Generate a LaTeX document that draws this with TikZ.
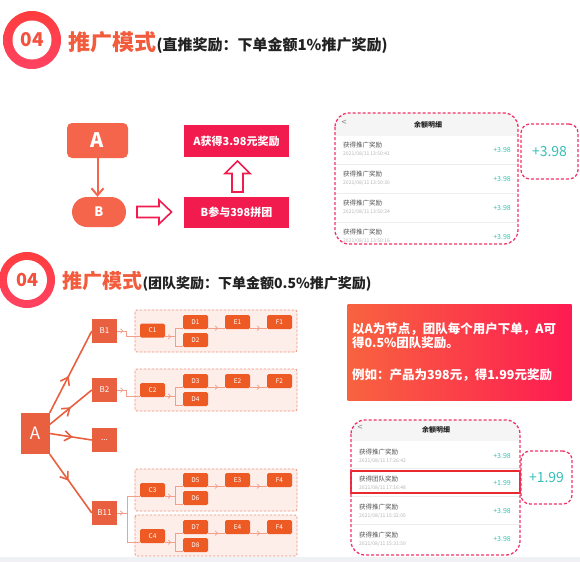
\documentclass[tikz,border=0pt]{standalone}
\usepackage{fontspec}
\setmainfont{Noto Sans CJK SC}
\usetikzlibrary{shapes,arrows.meta,positioning,calc,decorations.markings}

\definecolor{ringA}{HTML}{FF3D3D}
\definecolor{ringB}{HTML}{FF4262}
\definecolor{numc}{HTML}{F4513F}
\definecolor{titlec}{HTML}{F25B3B}
\definecolor{txtdark}{HTML}{222222}
\definecolor{coralA}{HTML}{F5654B}
\definecolor{crimson}{HTML}{F21B4E}
\definecolor{pinkd}{HTML}{F2336B}
\definecolor{tealc}{HTML}{38BFB8}
\definecolor{hdrgray}{HTML}{F5F5F5}
\definecolor{sepgray}{HTML}{EDEDED}
\definecolor{treeA}{HTML}{E8603F}
\definecolor{orng}{HTML}{EE5A24}
\definecolor{grpfill}{HTML}{FDEEEA}
\definecolor{grpline}{HTML}{F1937C}
\definecolor{linkc}{HTML}{F2A08C}
\definecolor{gradL}{HTML}{F8633F}
\definecolor{gradR}{HTML}{FE1B52}
\definecolor{hlred}{HTML}{E82A2F}
\definecolor{bandgray}{HTML}{EFF1F4}
\definecolor{rowtxt}{HTML}{555555}
\definecolor{datetxt}{HTML}{B4B4B4}

\begin{document}
\begin{tikzpicture}[x=1pt,y=-1pt,
  topnode/.style={fill=coralA,text=white,inner sep=0pt,font=\bfseries\fontsize{20}{20}\selectfont},
  redbox/.style={fill=crimson,text=white,inner sep=0pt,minimum width=105pt,minimum height=31pt,font=\bfseries\fontsize{11}{12}\selectfont},
  hollow/.style={draw=crimson,fill=white,line width=1.6pt,line join=miter},
  bbox/.style={fill=treeA,text=white,minimum width=25pt,minimum height=24pt,inner sep=0pt,font=\fontsize{8}{8}\selectfont},
  cbox/.style={fill=orng,text=white,rounded corners=1.5pt,minimum width=25pt,minimum height=14pt,inner sep=0pt,font=\fontsize{6.5}{7}\selectfont},
  grp/.style={draw=grpline,fill=grpfill,dash pattern=on 2.5pt off 1.5pt,line width=0.8pt,rounded corners=2pt},
  lnk/.style={color=linkc,line width=0.7pt},
  tline/.style={color=treeA,line width=1.6pt},
  midarr/.style={postaction={decorate},decoration={markings,mark=at position #1 with {\arrow{Straight Barb[length=2.5pt,width=4.5pt]}}}},
  bigarr/.style={postaction={decorate},decoration={markings,mark=at position #1 with {\arrow{Straight Barb[length=7pt,width=10pt,line width=1.6pt]}}}},
  phone/.style={draw=pinkd,dash pattern=on 3pt off 2pt,line width=1.3pt,rounded corners=14pt},
  sidebox/.style={draw=pinkd,dash pattern=on 3pt off 2pt,line width=1.3pt,rounded corners=9pt,text=tealc,inner sep=0pt,font=\fontsize{14}{14}\selectfont},
  rowttl/.style={inner sep=0pt,text=rowtxt,font=\fontsize{6.5}{7}\selectfont},
  rowdate/.style={inner sep=0pt,text=datetxt,font=\fontsize{5}{5}\selectfont},
  rowval/.style={inner sep=0pt,text=tealc,font=\fontsize{7}{7}\selectfont}]
\fill[white] (0,0) rectangle (580,562);
\useasboundingbox (0,0) rectangle (580,562);

% Header 1
\node[circle,minimum size=58pt,inner sep=0pt,top color=ringA,bottom color=ringB] (ring1) at (32,40) {};
\node[circle,fill=white,minimum size=39pt,inner sep=0pt,text=numc,font=\bfseries\fontsize{19}{19}\selectfont] (num1) at (ring1) {04};
\node[anchor=west,inner sep=0pt,text=titlec,font=\bfseries\fontsize{22}{22}\selectfont] (ttl1) at (68,42) {推广模式};
\node[anchor=base west,inner sep=0pt,text=txtdark,font=\bfseries\fontsize{15}{15}\selectfont] (sub1) at (ttl1.base east) {(直推奖励：下单金额1\%推广奖励)};

% Direct reward
\node[topnode,rounded corners=5pt,minimum width=61pt,minimum height=35pt] (A) at (97.5,140.5) {A};
\node[topnode,rounded corners=15pt,minimum width=54pt,minimum height=30pt,font=\bfseries\fontsize{13}{13}\selectfont] (B) at (99,212) {B};
\draw[coralA,line width=2pt,-{Straight Barb[length=7pt,width=12pt]}] (A) -- (A |- B.north);
\node[redbox] (join) at (236.5,212.5) {B参与398拼团};
\node[redbox,minimum height=32pt] (gain) at (236.5,141) {A获得3.98元奖励};
\draw[hollow] (137,206.5) -- (159,206.5) -- (159,200) -- (171.5,212) -- (159,224) -- (159,217.5) -- (137,217.5) -- cycle;
\draw[hollow] (232,192) -- (232,173.5) -- (225,173.5) -- (237.5,161) -- (250,173.5) -- (243,173.5) -- (243,192) -- cycle;

% Balance list 1
\begin{scope}
\clip[rounded corners=14pt] (335,113) rectangle (518,244);
\fill[hdrgray] (335,113) rectangle (518,136);
\foreach \y in {164,193,222} \draw[sepgray] (335,\y) -- (518,\y);
\end{scope}
\node[font=\bfseries\fontsize{7}{7}\selectfont,text=txtdark,inner sep=0pt] (hd1) at (428,124.5) {余额明细};
\node[font=\fontsize{9}{9}\selectfont,text=gray,inner sep=0pt] (bk1) at (344,123) {<};
\foreach \y/\t in {145/13:50:41,174/13:50:30,203/13:50:24,232/13:50:16}{
  \node[rowttl,anchor=west] (p1t\y) at (343,\y) {获得推广奖励};
  \node[rowdate,anchor=west] (p1d\y) at (343,\y+9) {2021/08/11 \t};
  \node[rowval,anchor=east] (p1v\y) at (511,\y+5) {+3.98};
}
\draw[phone] (335,113) rectangle (518,244);
\node[sidebox,minimum width=57pt,minimum height=55pt] (side1) at (549.5,151.5) {+3.98};

% Header 2
\node[circle,minimum size=56pt,inner sep=0pt,top color=ringA,bottom color=ringB] (ring2) at (27,280) {};
\node[circle,fill=white,minimum size=40pt,inner sep=0pt,text=numc,font=\bfseries\fontsize{18}{18}\selectfont] (num2) at (ring2) {04};
\node[anchor=west,inner sep=0pt,text=titlec,font=\bfseries\fontsize{20}{20}\selectfont] (ttl2) at (62,281) {推广模式};
\node[anchor=base west,inner sep=0pt,text=txtdark,font=\bfseries\fontsize{14}{14}\selectfont] (sub2) at (ttl2.base east) {(团队奖励：下单金额0.5\%推广奖励)};

% Team tree
\node[bbox,minimum width=29pt,minimum height=41pt,font=\fontsize{17}{17}\selectfont] (A2) at (35,433.5) {A};
\node[bbox] (B1) at (104.5,331) {B1};
\node[bbox] (B2) at (104.5,390) {B2};
\node[bbox] (Bx) at (104.5,440) {...};
\node[bbox] (B11) at (104.5,513) {B11};
\draw[tline,bigarr=0.45] (A2.north east) -- (B1.west);
\draw[tline,bigarr=0.5] ([yshift=9pt]A2.east) -- (B2.west);
\draw[tline,bigarr=0.55] (A2.east) -- (Bx.west);
\draw[tline,bigarr=0.45] (A2.south east) -- (B11.west);

% Groups
\draw[grp] (135,310) rectangle (297,352);
\draw[grp] (135,369) rectangle (297,411);
\draw[grp] (135,469) rectangle (297,511);
\draw[grp] (135,515) rectangle (297,556);

\node[cbox] (C1) at (152.5,330.5) {C1};
\node[cbox] (D1) at (195.5,322) {D1};
\node[cbox] (D2) at (195.5,340) {D2};
\node[cbox] (E1) at (237.5,322) {E1};
\node[cbox] (F1) at (279.5,322) {F1};

\node[cbox] (C2) at (152.5,390) {C2};
\node[cbox] (D3) at (195.5,381) {D3};
\node[cbox] (D4) at (195.5,399) {D4};
\node[cbox] (E2) at (237.5,381) {E2};
\node[cbox] (F2) at (279.5,381) {F2};

\node[cbox] (C3) at (152.5,490) {C3};
\node[cbox] (D5) at (195.5,480) {D5};
\node[cbox] (D6) at (195.5,498) {D6};
\node[cbox] (E3) at (237.5,480) {E3};
\node[cbox] (F4) at (279.5,480) {F4};

\node[cbox] (C4) at (152.5,536) {C4};
\node[cbox] (D7) at (195.5,527) {D7};
\node[cbox] (D8) at (195.5,545) {D8};
\node[cbox] (E4) at (237.5,527) {E4};
\node[cbox] (F4b) at (279.5,527) {F4};

% Links
\coordinate (k1) at ([xshift=9pt]B1.east);
\draw[lnk,midarr=0.7] (B1.east) -- (k1);
\draw[lnk] (k1) |- ([yshift=1pt]C1.south west);
\coordinate (j1) at ([xshift=10pt,yshift=1pt]C1.south east);
\draw[lnk,midarr=0.6] ([yshift=1pt]C1.south east) -- (j1);
\draw[lnk] ([yshift=1pt]D1.south west) -| (j1) |- ([yshift=1pt]D2.south west);
\draw[lnk,midarr=0.6] ([yshift=1pt]D1.south east) -- ([yshift=1pt]E1.south west);
\draw[lnk,midarr=0.6] ([yshift=1pt]E1.south east) -- ([yshift=1pt]F1.south west);

\coordinate (k2) at ([xshift=9pt]B2.east);
\draw[lnk,midarr=0.7] (B2.east) -- (k2);
\draw[lnk] (k2) |- ([yshift=1pt]C2.south west);
\coordinate (j2) at ([xshift=10pt,yshift=1pt]C2.south east);
\draw[lnk,midarr=0.6] ([yshift=1pt]C2.south east) -- (j2);
\draw[lnk] ([yshift=1pt]D3.south west) -| (j2) |- ([yshift=1pt]D4.south west);
\draw[lnk,midarr=0.6] ([yshift=1pt]D3.south east) -- ([yshift=1pt]E2.south west);
\draw[lnk,midarr=0.6] ([yshift=1pt]E2.south east) -- ([yshift=1pt]F2.south west);

\coordinate (j0) at ([xshift=10pt]B11.east);
\draw[lnk,midarr=0.6] (B11.east) -- (j0);
\draw[lnk] ([yshift=1pt]C3.south west) -| (j0) |- ([yshift=1pt]C4.south west);
\coordinate (j3) at ([xshift=10pt,yshift=1pt]C3.south east);
\draw[lnk,midarr=0.6] ([yshift=1pt]C3.south east) -- (j3);
\draw[lnk] ([yshift=1pt]D5.south west) -| (j3) |- ([yshift=1pt]D6.south west);
\draw[lnk,midarr=0.6] ([yshift=1pt]D5.south east) -- ([yshift=1pt]E3.south west);
\draw[lnk,midarr=0.6] ([yshift=1pt]E3.south east) -- ([yshift=1pt]F4.south west);
\coordinate (j4) at ([xshift=10pt,yshift=1pt]C4.south east);
\draw[lnk,midarr=0.6] ([yshift=1pt]C4.south east) -- (j4);
\draw[lnk] ([yshift=1pt]D7.south west) -| (j4) |- ([yshift=1pt]D8.south west);
\draw[lnk,midarr=0.6] ([yshift=1pt]D7.south east) -- ([yshift=1pt]E4.south west);
\draw[lnk,midarr=0.6] ([yshift=1pt]E4.south east) -- ([yshift=1pt]F4b.south west);

% Note
\node[left color=gradL,right color=gradR,minimum width=224pt,minimum height=96pt,text width=215pt,align=left,text=white,inner sep=0pt,font=\bfseries\fontsize{12.5}{14}\selectfont] (note) at (459.5,352) {以A为节点，团队每个用户下单，A可\\得0.5\%团队奖励。\\[18pt]例如：产品为398元，得1.99元奖励};

% Balance list 2
\begin{scope}
\clip[rounded corners=14pt] (351,420) rectangle (520,555);
\fill[hdrgray] (351,420) rectangle (520,441);
\foreach \y in {468,496,524} \draw[sepgray] (351,\y) -- (520,\y);
\end{scope}
\node[font=\bfseries\fontsize{7}{7}\selectfont,text=txtdark,inner sep=0pt] (hd2) at (436,430) {余额明细};
\node[font=\fontsize{9}{9}\selectfont,text=gray,inner sep=0pt] (bk2) at (360,428) {<};
\foreach \y/\s/\t/\v in {452/获得推广奖励/17:26:42/+3.98,479/获得团队奖励/17:16:48/+1.99,507/获得推广奖励/15:32:05/+3.98,535/获得推广奖励/15:31:59/+3.98}{
  \node[rowttl,anchor=west] (p2t\y) at (359,\y) {\s};
  \node[rowdate,anchor=west] (p2d\y) at (359,\y+9) {2021/08/11 \t};
  \node[rowval,anchor=east] (p2v\y) at (511,\y+4) {\v};
}
\draw[hlred,line width=1.2pt] (351,471) rectangle (520,493);
\draw[phone] (351,420) rectangle (520,555);
\node[sidebox,minimum width=51pt,minimum height=53pt] (side2) at (546.5,477.5) {+1.99};

% Bottom band
\fill[bandgray] (0,557) rectangle (580,562);
\end{tikzpicture}
\end{document}
